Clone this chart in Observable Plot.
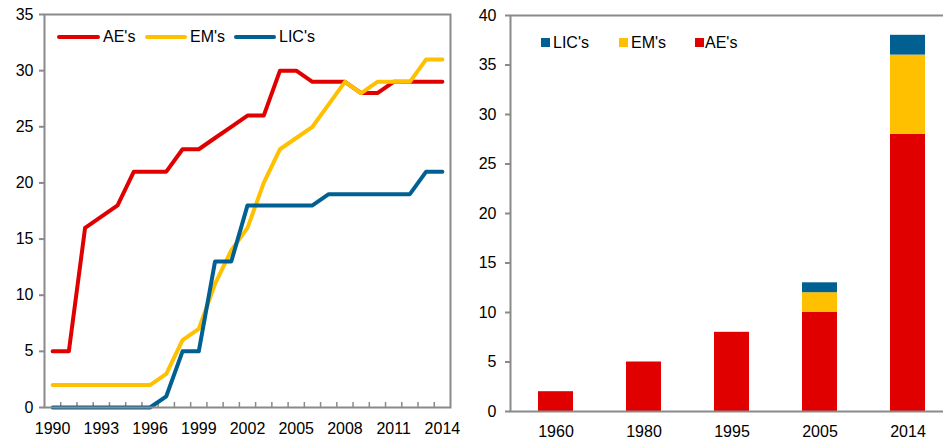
<!DOCTYPE html>
<html><head><meta charset="utf-8">
<script src="https://cdn.jsdelivr.net/npm/d3@7"></script>
<script src="https://cdn.jsdelivr.net/npm/@observablehq/plot@0.6"></script>
<style>
html,body{margin:0;padding:0;background:#fff;overflow:hidden;}
#wrap{position:relative;width:943px;height:440px;overflow:hidden;font-family:"Liberation Sans",Arial,sans-serif;background:#fff;}
#left{position:absolute;left:0;top:0;width:470px;height:440px;}
#right{position:absolute;left:470px;top:0;width:483px;height:440px;}
#wrap svg{max-width:none !important;}
.lt{position:absolute;font-size:16px;line-height:16px;color:#000;white-space:nowrap;}
.ll{position:absolute;height:4px;border-radius:2px;}
.sq{position:absolute;width:9px;height:9px;}
</style></head><body>
<div id="wrap">
  <div id="left"></div>
  <div id="right"></div>
  <div id="legend"></div>
</div>
<script>
// ---- data ----
const years = [1990,1991,1992,1993,1994,1995,1996,1997,1998,1999,2000,2001,2002,2003,2004,2005,2006,2007,2008,2009,2010,2011,2012,2013,2014];
const aeValues  = [5,5,16,17,18,21,21,21,23,23,24,25,26,26,30,30,29,29,29,28,28,29,29,29,29];
const emValues  = [2,2,2,2,2,2,2,3,6,7,11,14,16,20,23,24,25,27,29,28,29,29,29,31,31];
const licValues = [0,0,0,0,0,0,0,1,5,5,13,13,18,18,18,18,18,19,19,19,19,19,19,21,21];
const xTickLabels = [1990,1993,1996,1999,2002,2005,2008,2011,2014];
const yTicksLeft = [0,5,10,15,20,25,30,35];

const barYears = ["1960","1980","1995","2005","2014"];
const barAE  = [2,5,8,10,28];
const barEM  = [0,0,0,2,8];
const barLIC = [0,0,0,1,2];
const yTicksRight = [0,5,10,15,20,25,30,35,40];

const series = ["AE's","EM's","LIC's"];
const colors = ["#E00000","#FFC000","#006092"];
const gray = "#8a8a8a";
const font = '"Liberation Sans", Arial, sans-serif';

// ---- tables ----
const lineData = [];
years.forEach((yr,i)=>{
  lineData.push({year:yr, series:"AE's", value:aeValues[i]});
  lineData.push({year:yr, series:"EM's", value:emValues[i]});
  lineData.push({year:yr, series:"LIC's", value:licValues[i]});
});
const boundaries = years.slice(0,-1).map(y=>y+0.5);

const barData = [];
barYears.forEach((yr,i)=>{
  [["AE's",barAE[i]],["EM's",barEM[i]],["LIC's",barLIC[i]]].forEach(([s,v])=>{
    if (v>0) barData.push({year:yr, series:s, value:v});
  });
});

const style = {fontFamily: font, fontSize: "16px", color: "#000", background: "#fff", overflow: "visible", maxWidth: "none"};

// ---- left chart ----
const left = Plot.plot({
  width: 470, height: 440,
  marginLeft: 44, marginRight: 20, marginTop: 14, marginBottom: 33,
  style,
  x: {domain: [1989.5, 2014.5], label: null},
  y: {domain: [0, 35], label: null},
  color: {domain: series, range: colors},
  marks: [
    Plot.axisY({ticks: yTicksLeft, tickSize: 5, tickPadding: 6, stroke: gray, strokeWidth: 2, fill: "#000", fontSize: 16, tickFormat: d=>String(d), label: null}),
    Plot.axisX({ticks: boundaries, tickSize: 5, dy: -5, stroke: gray, strokeWidth: 1.5, tickFormat: () => "", label: null}),
    Plot.axisX({ticks: xTickLabels, tickSize: 0, tickPadding: 15, fill: "#000", fontSize: 16, tickFormat: d=>String(d), label: null}),
    Plot.line(lineData, {x: "year", y: "value", z: "series", stroke: "series", strokeWidth: 4}),
    Plot.frame({stroke: gray, strokeWidth: 2})
  ]
});
document.getElementById("left").appendChild(left);

// ---- right chart ----
const right = Plot.plot({
  width: 483, height: 440,
  marginLeft: 40, marginRight: 0, marginTop: 15, marginBottom: 29,
  style,
  x: {domain: barYears, paddingInner: 0.6, paddingOuter: 0.3, label: null},
  y: {domain: [0, 40], label: null},
  color: {domain: series, range: colors},
  marks: [
    Plot.barY(barData, {x: "year", y: "value", fill: "series", order: series}),
    Plot.axisY({ticks: yTicksRight, tickSize: 5, tickPadding: 9, stroke: gray, strokeWidth: 2, fill: "#000", fontSize: 16, tickFormat: d=>String(d), label: null}),
    Plot.axisX({tickSize: 0, tickPadding: 14, fill: "#000", fontSize: 16, label: null}),
    Plot.frame({stroke: gray, strokeWidth: 2})
  ]
});
document.getElementById("right").appendChild(right);

// ---- legends ----
const leg = document.getElementById("legend");
const lineLeg = [
  {s:"AE's", x1:57, x2:100, tx:103},
  {s:"EM's", x1:145, x2:187, tx:190},
  {s:"LIC's", x1:234, x2:276, tx:279}
];
lineLeg.forEach(d=>{
  const c = colors[series.indexOf(d.s)];
  const l = document.createElement("div");
  l.className = "ll"; l.style.left = d.x1+"px"; l.style.width = (d.x2-d.x1)+"px"; l.style.top = "35px"; l.style.background = c;
  leg.appendChild(l);
  const t = document.createElement("div");
  t.className = "lt"; t.style.left = d.tx+"px"; t.style.top = "29px"; t.textContent = d.s;
  leg.appendChild(t);
});
const sqLeg = [
  {s:"LIC's", x:541, tx:553},
  {s:"EM's", x:619, tx:631},
  {s:"AE's", x:695, tx:705}
];
sqLeg.forEach(d=>{
  const c = colors[series.indexOf(d.s)];
  const q = document.createElement("div");
  q.className = "sq"; q.style.left = d.x+"px"; q.style.top = "38px"; q.style.background = c;
  leg.appendChild(q);
  const t = document.createElement("div");
  t.className = "lt"; t.style.left = d.tx+"px"; t.style.top = "35px"; t.textContent = d.s;
  leg.appendChild(t);
});
</script>
</body></html>
